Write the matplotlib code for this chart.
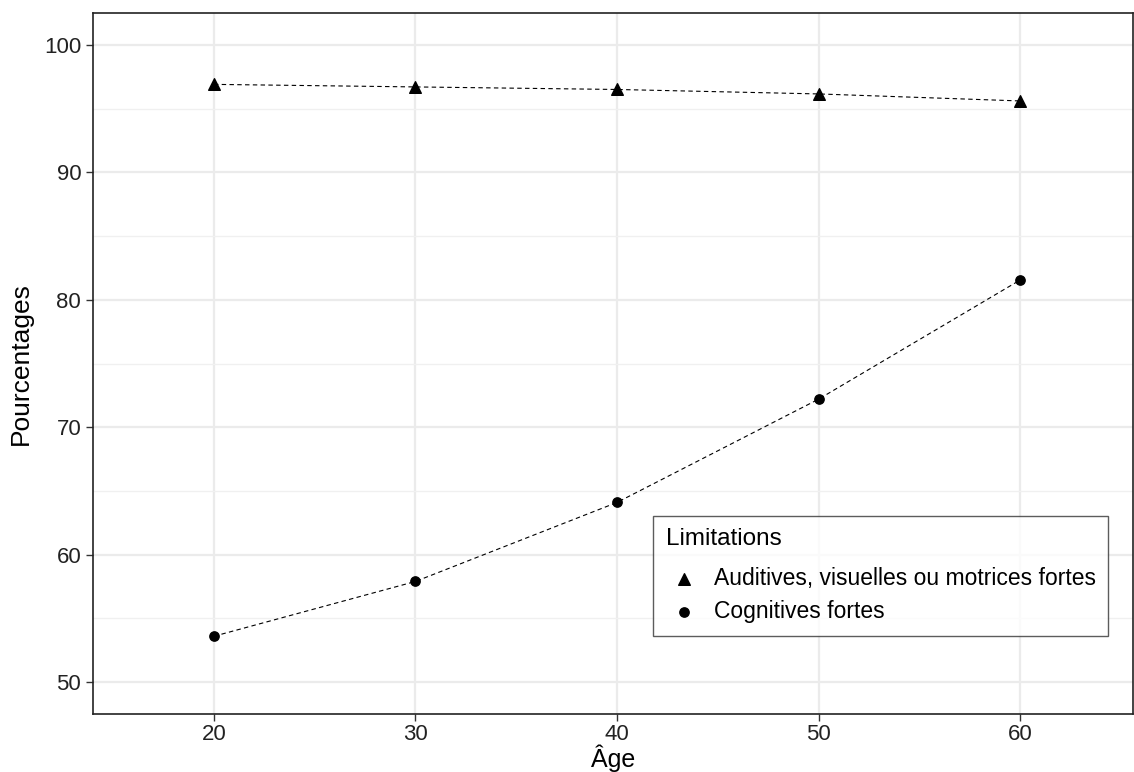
import matplotlib
matplotlib.use("Agg")
import matplotlib.pyplot as plt
from matplotlib.ticker import MultipleLocator

plt.rcParams['font.family'] = ['Liberation Sans', 'DejaVu Sans']

ages = [20, 30, 40, 50, 60]
sensorielles = [96.9, 96.7, 96.5, 96.15, 95.6]
cognitives = [53.6, 57.9, 64.1, 72.2, 81.55]
lab_sens = "Auditives, visuelles ou motrices fortes"
lab_cogn = "Cognitives fortes"

fig = plt.figure(figsize=(11.34, 7.72), dpi=100)
ax = fig.add_axes([93/1134, 58/772, 1040/1134, 701/772])

ax.plot(ages, sensorielles, color='black', ls=(0, (4, 3)), lw=0.8)
ax.plot(ages, cognitives, color='black', ls=(0, (4, 3)), lw=0.8)
ax.scatter(ages, sensorielles, marker='^', s=70, color='black', zorder=3, label=lab_sens)
ax.scatter(ages, cognitives, marker='o', s=45, color='black', zorder=3, label=lab_cogn)

ax.set_xlim(14, 65.6)
ax.set_ylim(47.5, 102.5)
ax.xaxis.set_major_locator(MultipleLocator(10))
ax.yaxis.set_major_locator(MultipleLocator(10))
ax.yaxis.set_minor_locator(MultipleLocator(5))
ax.grid(which='major', color='#ebebeb', lw=1.6)
ax.grid(which='minor', axis='y', color='#f0f0f0', lw=1.0)
ax.set_axisbelow(True)
ax.tick_params(which='minor', length=0)
ax.tick_params(which='major', length=5, width=1, color='#333333', labelsize=16, labelcolor='#222222')
ax.tick_params(axis='x', pad=2)
for s in ax.spines.values():
    s.set_color('#222222')
    s.set_linewidth(1.2)

ax.set_xlabel("Âge", fontsize=18, labelpad=0)
ax.set_ylabel("Pourcentages", fontsize=19, labelpad=8)

leg = ax.legend(title="Limitations", loc='lower left', bbox_to_anchor=(560/1040, 78/701),
                borderaxespad=0, fontsize=16.5, title_fontsize=17.5, frameon=True,
                fancybox=False, edgecolor='#333333', handletextpad=0.5, borderpad=0.55,
                labelspacing=0.45, handlelength=1.6)
leg._legend_box.align = "left"
leg._legend_box.sep = 12
leg.get_frame().set_linewidth(1.0)

fig.savefig("out.png", dpi=100)
